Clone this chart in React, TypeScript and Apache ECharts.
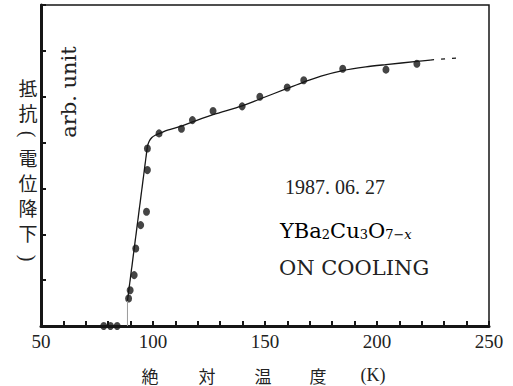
import React, { useEffect, useRef } from "react";
import * as echarts from "echarts";

// measured points (temperature K, resistance arb. unit)
const pointTemps = [78, 81, 84, 89.1, 89.8, 91.6, 92.3, 94.5, 97.1, 97.5, 97.5, 102.7, 112.7, 117.6, 126.8, 139.8, 147.7, 159.9, 167.3, 184.7, 204.0, 217.8];
const pointValues = [0, 0, 0, 0.6, 0.78, 1.11, 1.69, 2.2, 2.49, 3.4, 3.87, 4.2, 4.3, 4.49, 4.69, 4.79, 5.0, 5.2, 5.36, 5.61, 5.59, 5.72];

// fitted curve
const dropTemps = [88.6, 88.6];
const dropValues = [0, 0.55];
const riseTemps = [88.6, 97.5];
const riseValues = [0.55, 3.92];
const curveTemps = [97.5, 98.3, 99.5, 101, 103, 106.5, 112.7, 117.6, 126.8, 139.8, 147.7, 159.9, 167.3, 175, 184.7, 195, 204, 217.8, 223.7];
const curveValues = [3.92, 4.03, 4.11, 4.16, 4.2, 4.27, 4.36, 4.45, 4.61, 4.8, 4.95, 5.18, 5.32, 5.45, 5.57, 5.65, 5.7, 5.77, 5.8];
const dashTemps = [223.7, 237];
const dashValues = [5.8, 5.85];

const xLabelStep = 50;

// y-axis title characters (vertical), parentheses are rotated
const yTitleChars = ["抵", "抗", "(", "電", "位", "降", "下", ")"];
const xTitleChars = ["絶", "対", "温", "度"];

const zip = (a: number[], b: number[]) => a.map((v, i) => [v, b[i]]);

export default function App() {
  const ref = useRef<HTMLDivElement>(null);
  useEffect(() => {
    if (!ref.current) return;
    const chart = echarts.init(ref.current, null, { renderer: "svg" });
    const ink = "#161616";
    const yTitleY = [87, 112, 134, 157, 182, 207, 232, 258];
    const xTitleX = [150, 207, 263, 318];
    chart.setOption({
      animation: false,
      backgroundColor: "#ffffff",
      grid: { left: 41, top: 5, width: 448, height: 321, show: true, borderColor: ink, borderWidth: 1.5 },
      xAxis: {
        type: "value",
        min: 50,
        max: 250,
        interval: 10,
        axisLine: { lineStyle: { color: ink, width: 3 } },
        axisTick: { inside: true, length: 5, lineStyle: { color: ink, width: 2 } },
        axisLabel: {
          formatter: (v: number) => (v % xLabelStep === 0 ? String(v) : ""),
          fontFamily: "Liberation Serif",
          fontSize: 19,
          color: "#222",
          margin: 6,
        },
        splitLine: { show: false },
      },
      yAxis: {
        type: "value",
        min: 0,
        max: 7,
        interval: 1,
        axisLine: { show: true, lineStyle: { color: ink, width: 3 } },
        axisTick: { show: true, inside: true, length: 5, lineStyle: { color: ink, width: 2 } },
        axisLabel: { show: false },
        splitLine: { show: false },
      },
      series: [
        {
          type: "line",
          data: zip(dropTemps, dropValues),
          symbol: "none",
          lineStyle: { color: "#9a9a9a", width: 1 },
        },
        {
          type: "line",
          data: zip(riseTemps, riseValues),
          symbol: "none",
          lineStyle: { color: ink, width: 1.3 },
        },
        {
          type: "line",
          data: zip(curveTemps, curveValues),
          symbol: "none",
          smooth: 0.3,
          lineStyle: { color: ink, width: 1.3 },
        },
        {
          type: "line",
          data: zip(dashTemps, dashValues),
          symbol: "none",
          lineStyle: { color: ink, width: 1.2, type: [4, 7] },
        },
        {
          type: "scatter",
          data: zip(pointTemps, pointValues),
          symbol: "circle",
          symbolSize: [7, 8],
          itemStyle: { color: ink },
          clip: false,
        },
      ],
      graphic: [
        {
          type: "text",
          x: 69,
          y: 92,
          rotation: Math.PI / 2,
          style: { text: "arb. unit", font: "21px 'DejaVu Serif'", fill: "#222", textAlign: "center", textVerticalAlign: "middle" },
        },
        ...yTitleChars.map((c, i) => {
          const paren = c === "(" || c === ")";
          return {
            type: "text",
            x: 28,
            y: yTitleY[i],
            rotation: paren ? -Math.PI / 2 : 0,
            style: {
              text: c,
              font: paren ? "20px 'Liberation Serif'" : "19px 'Noto Sans CJK JP'",
              fill: "#222",
              textAlign: "center",
              textVerticalAlign: "middle",
            },
          };
        }),
        ...xTitleChars.map((c, i) => ({
          type: "text",
          x: xTitleX[i],
          y: 375,
          style: { text: c, font: "17px 'Noto Sans CJK JP'", fill: "#222", textAlign: "center", textVerticalAlign: "middle" },
        })),
        {
          type: "text",
          x: 373,
          y: 375,
          style: { text: "(K)", font: "18px 'Liberation Serif'", fill: "#222", textAlign: "center", textVerticalAlign: "middle" },
        },
        {
          type: "text",
          x: 285,
          y: 187,
          style: { text: "1987. 06. 27", font: "20px 'Liberation Serif'", fill: "#222", textAlign: "left", textVerticalAlign: "middle" },
        },
        {
          type: "text",
          x: 280,
          y: 228,
          style: {
            text: "{m|YBa}{s|2}{m|Cu}{s|3}{m|O}{s|7−}{i|x}",
            textAlign: "left",
            textVerticalAlign: "middle",
            rich: {
              m: { fontFamily: "DejaVu Serif", fontSize: 21, color: "#222", lineHeight: 26, verticalAlign: "bottom" },
              s: { fontFamily: "DejaVu Serif", fontSize: 13, color: "#222", lineHeight: 26, verticalAlign: "bottom" },
              i: { fontFamily: "DejaVu Serif", fontSize: 13, fontStyle: "italic", color: "#222", lineHeight: 26, verticalAlign: "bottom" },
            },
          },
        },
        {
          type: "text",
          x: 279,
          y: 268,
          style: { text: "ON COOLING", font: "21px 'DejaVu Serif'", fill: "#222", textAlign: "left", textVerticalAlign: "middle" },
        },
      ],
    });
    return () => chart.dispose();
  }, []);
  return <div ref={ref} style={{ position: "fixed", left: 0, top: 0, width: 513, height: 386 }} />;
}
